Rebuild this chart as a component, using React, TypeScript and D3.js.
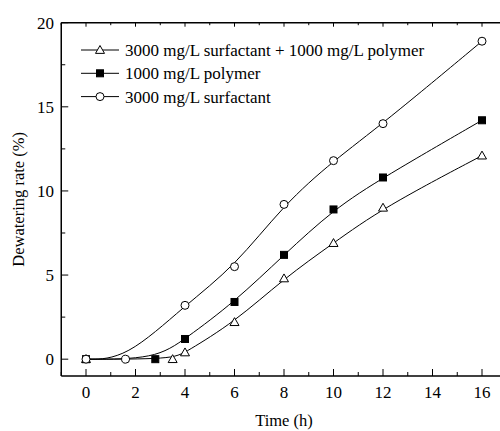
import React from "react";
import * as d3 from "d3";

const W = 500;
const H = 431;

const xTicks = [0, 2, 4, 6, 8, 10, 12, 14, 16];
const xMinor = [-1, 1, 3, 5, 7, 9, 11, 13, 15, 17];
const yTicks = [0, 5, 10, 15, 20];
const yMinor = [2.5, 7.5, 12.5, 17.5];

const seriesNames = [
  "3000 mg/L surfactant + 1000 mg/L polymer",
  "1000 mg/L polymer",
  "3000 mg/L surfactant",
];
const seriesMarkers = ["triangle", "square", "circle"];

const triX = [0, 3.5, 4, 6, 8, 10, 12, 16];
const triY = [0, 0, 0.4, 2.2, 4.8, 6.9, 9.0, 12.1];
const sqX = [0, 2.8, 4, 6, 8, 10, 12, 16];
const sqY = [0, 0, 1.2, 3.4, 6.2, 8.9, 10.8, 14.2];
const ciX = [0, 1.6, 4, 6, 8, 10, 12, 16];
const ciY = [0, 0, 3.2, 5.5, 9.2, 11.8, 14.0, 18.9];

const seriesX = [triX, sqX, ciX];
const seriesY = [triY, sqY, ciY];

const FONT = '"Liberation Serif", "Times New Roman", Tinos, "DejaVu Serif", serif';

function Marker({ type, x, y }: { type: string; x: number; y: number }) {
  if (type === "circle") {
    return <circle cx={x} cy={y} r={4} fill="white" stroke="black" strokeWidth={1} />;
  }
  if (type === "square") {
    return <rect x={x - 3.5} y={y - 3.5} width={7} height={7} fill="black" stroke="black" strokeWidth={1} />;
  }
  const s = 4.5;
  const pts = `${x},${y - s} ${x - s},${y + s * 0.75} ${x + s},${y + s * 0.75}`;
  return <polygon points={pts} fill="white" stroke="black" strokeWidth={1} />;
}

export default function App() {
  const x = d3.scaleLinear().domain([-1, 17]).range([61.25, 506.75]);
  const y = d3.scaleLinear().domain([-1, 20]).range([376, 22.7]);
  const line = d3
    .line<[number, number]>()
    .x((d) => x(d[0]))
    .y((d) => y(d[1]))
    .curve(d3.curveBasis);

  const left = x(-1);
  const right = x(17);
  const top = y(20);
  const bottom = y(-1);

  return (
    <div style={{ position: "absolute", left: 0, top: 0, fontFamily: FONT }}>
      <svg width={W} height={H} style={{ display: "block", background: "white" }} fontFamily={FONT}>
        <rect width={W} height={H} fill="white" />
        {seriesX.map((xs, i) => (
          <path
            key={"l" + i}
            d={line(xs.map((v, j) => [v, seriesY[i][j]] as [number, number])) || ""}
            fill="none"
            stroke="black"
            strokeWidth={1}
          />
        ))}
        {seriesX.map((xs, i) =>
          xs.map((v, j) => <Marker key={`m${i}-${j}`} type={seriesMarkers[i]} x={x(v)} y={y(seriesY[i][j])} />)
        )}
        <line x1={left} x2={left} y1={top} y2={bottom} stroke="black" strokeWidth={1.5} />
        <line x1={left} x2={right} y1={bottom} y2={bottom} stroke="black" strokeWidth={1.5} />
        <line x1={left} x2={right} y1={top} y2={top} stroke="black" strokeWidth={1.5} />
        <line x1={right} x2={right} y1={top} y2={bottom} stroke="black" strokeWidth={1.5} />
        {xTicks.map((t) => (
          <g key={"xt" + t}>
            <line x1={x(t)} x2={x(t)} y1={bottom} y2={bottom - 7} stroke="black" strokeWidth={1} />
            <line x1={x(t)} x2={x(t)} y1={top} y2={top + 4} stroke="black" strokeWidth={1} />
            <text x={x(t)} y={398} textAnchor="middle" fontSize={17}>
              {t}
            </text>
          </g>
        ))}
        {xMinor.map((t) => (
          <g key={"xm" + t}>
            <line x1={x(t)} x2={x(t)} y1={bottom} y2={bottom - 4} stroke="black" strokeWidth={1} />
            <line x1={x(t)} x2={x(t)} y1={top} y2={top + 2.5} stroke="black" strokeWidth={1} />
          </g>
        ))}
        {yTicks.map((t) => (
          <g key={"yt" + t}>
            <line x1={left} x2={left + 7} y1={y(t)} y2={y(t)} stroke="black" strokeWidth={1} />
            <text x={54} y={y(t)} dy="0.35em" textAnchor="end" fontSize={17}>
              {t}
            </text>
          </g>
        ))}
        {yMinor.map((t) => (
          <line key={"ym" + t} x1={left} x2={left + 4} y1={y(t)} y2={y(t)} stroke="black" strokeWidth={1} />
        ))}
        <text x={284} y={426} textAnchor="middle" fontSize={16.5}>
          Time (h)
        </text>
        <text transform={`translate(24, ${(top + bottom) / 2}) rotate(-90)`} textAnchor="middle" fontSize={16.5}>
          Dewatering rate (%)
        </text>
        {seriesNames.map((name, i) => {
          const ly = 50 + i * 23.3;
          return (
            <g key={"lg" + i}>
              <line x1={81} x2={119} y1={ly} y2={ly} stroke="black" strokeWidth={1} />
              <Marker type={seriesMarkers[i]} x={100} y={ly} />
              <text x={125} y={ly} dy="0.35em" fontSize={17}>
                {name}
              </text>
            </g>
          );
        })}
      </svg>
    </div>
  );
}
